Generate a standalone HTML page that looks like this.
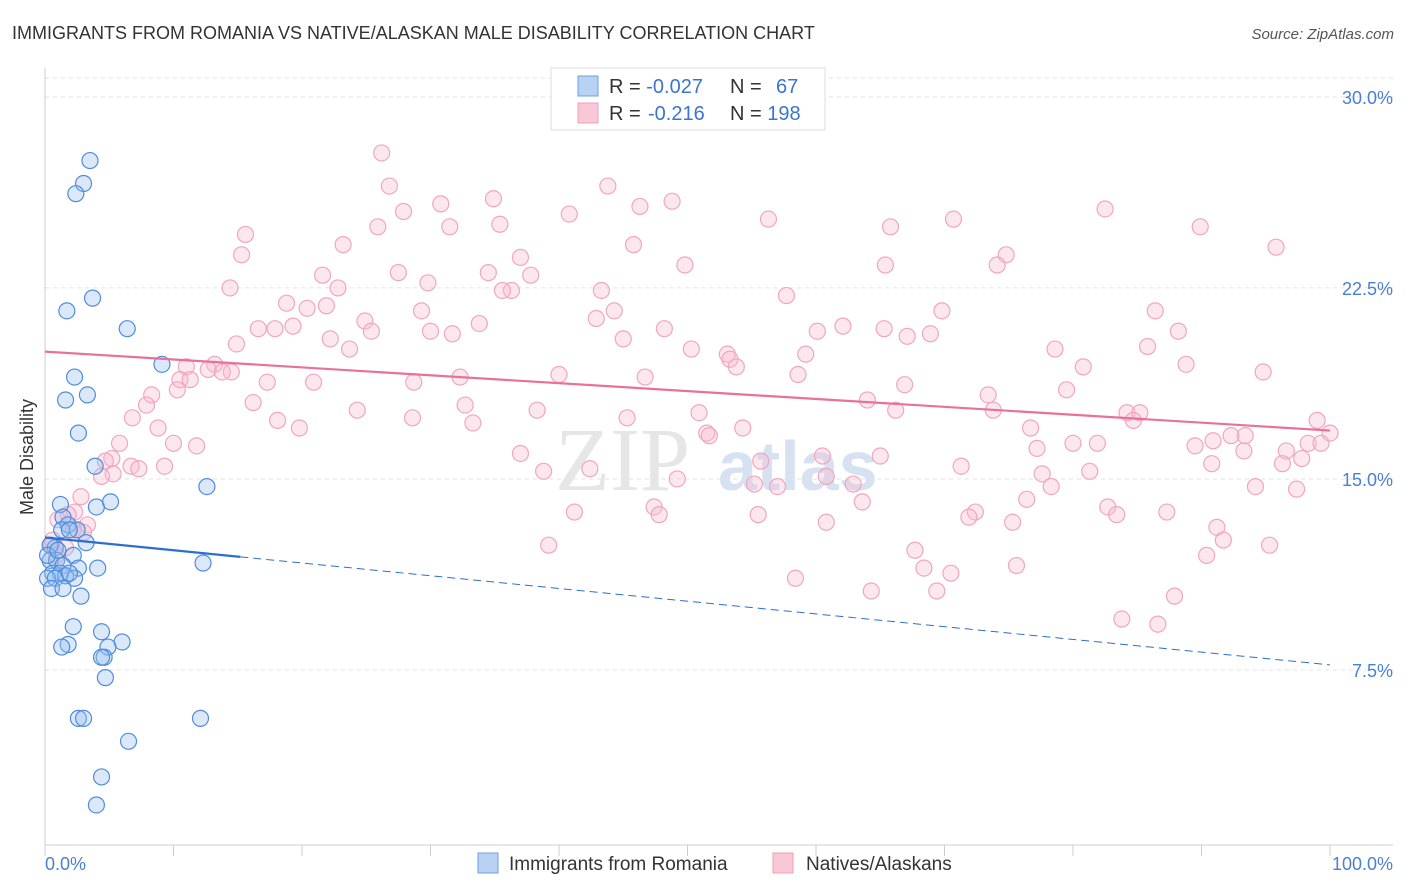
<!DOCTYPE html>
<html><head><meta charset="utf-8"><style>
body{margin:0;background:#fff;font-family:"Liberation Sans",sans-serif;}
svg{display:block}
</style></head><body>
<svg id="chart" width="1406" height="892">
<text x="12" y="39" font-size="18" fill="#333">IMMIGRANTS FROM ROMANIA VS NATIVE/ALASKAN MALE DISABILITY CORRELATION CHART</text>
<text x="1394" y="39" font-size="15" fill="#555" font-style="italic" text-anchor="end">Source: ZipAtlas.com</text>
<text x="33" y="457" font-size="18" fill="#333" text-anchor="middle" transform="rotate(-90 33 457)">Male Disability</text>
<g><text x="555" y="490" font-size="90" fill="#e6e6e6" font-family="Liberation Serif,serif">ZIP</text><text x="718" y="490" font-size="70" fill="#d6e2f2" font-weight="bold">atlas</text></g>
<g id="grid"></g><g id="axes"></g><g id="marks"></g>
<g>
<rect x="551" y="68" width="274" height="62" fill="#fff" stroke="#ddd"/>
<rect x="578" y="76" width="20" height="20" fill="#b8d2f4" stroke="#6f9fe0"/>
<rect x="578" y="103" width="20" height="20" fill="#f9c8d6" stroke="#ef9fb8"/>
<text x="609" y="93" font-size="20" fill="#333">R = <tspan fill="#3c74d0">-0.027</tspan></text>
<text x="730" y="93" font-size="20" fill="#333">N = </text><text x="776" y="93" font-size="20" fill="#3c74d0">67</text>
<text x="609" y="120" font-size="20" fill="#333">R = </text><text x="648" y="120" font-size="20" fill="#3c74d0">-0.216</text>
<text x="730" y="120" font-size="20" fill="#333">N = <tspan fill="#3c74d0">198</tspan></text>
</g>
<g>
<rect x="478" y="853" width="20" height="20" fill="#b8d2f4" stroke="#6f9fe0"/>
<text x="509" y="870" font-size="19" fill="#333">Immigrants from Romania</text>
<rect x="773" y="853" width="20" height="20" fill="#f9c8d6" stroke="#ef9fb8"/>
<text x="806" y="870" font-size="19" fill="#333">Natives/Alaskans</text>
</g>
</svg>
<script>
const yTicks=[7.5,15,22.5,30];
const yTickLabels=["7.5%","15.0%","22.5%","30.0%"];
const xTickLabels=["0.0%","100.0%"];
const blueX=[3.5,3.0,2.4,3.7,1.7,6.4,9.1,2.3,1.6,3.3,2.6,3.9,12.6,1.2,4.0,5.1,1.4,1.8,2.5,1.3,1.9,0.8,3.2,2.2,0.4,0.9,1.4,2.6,4.1,0.6,1.2,1.6,2.3,0.2,0.8,1.9,0.5,1.4,2.8,12.3,2.2,4.4,6.0,1.8,1.3,4.9,4.6,4.4,4.7,2.6,3.0,12.1,6.5,4.4,4.0,0.4,0.2,1.0];
const blueY=[27.5,26.6,26.2,22.1,21.6,20.9,19.5,19.0,18.1,18.3,16.8,15.5,14.7,14.0,13.9,14.1,13.5,13.2,13.0,13.0,13.0,12.3,12.5,12.0,11.8,11.8,11.6,11.5,11.5,11.3,11.3,11.2,11.1,11.1,11.1,11.3,10.7,10.7,10.4,11.7,9.2,9.0,8.6,8.5,8.4,8.4,8.0,8.0,7.2,5.6,5.6,5.6,4.7,3.3,2.2,12.4,12.0,12.2];
const pinkX=[40.3,52.2,26.2,26.8,43.8,34.9,30.8,48.8,46.3,27.9,40.8,56.3,31.5,35.4,25.9,15.6,65.8,70.7,82.5,89.9,95.8,23.2,45.8,15.3,37.0,65.4,49.8,21.6,27.5,34.5,37.8,74.8,74.1,14.4,29.8,43.3,22.8,36.3,35.6,57.7,18.8,29.3,21.9,20.4,44.3,69.8,86.4,24.9,25.4,42.9,33.8,16.6,17.9,19.3,48.2,30.0,31.7,62.1,65.3,60.1,88.2,22.2,45.0,67.1,68.9,14.9,23.7,78.6,85.8,50.3,53.1,59.2,53.3,13.2,11.0,12.7,14.5,13.8,80.8,88.8,40.0,53.8,58.6,46.7,32.3,94.8,10.5,11.3,17.3,28.7,20.9,66.9,8.3,10.3,79.5,73.4,16.2,64.0,7.9,32.7,66.2,38.3,24.3,6.8,28.6,18.1,33.3,45.3,73.8,50.9,84.2,85.2,84.7,99.0,8.8,19.8,54.3,76.7,51.5,51.7,100.0,92.3,90.9,93.4,5.8,10.0,11.8,80.0,81.9,89.5,77.2,93.3,96.6,98.3,99.3,37.0,60.5,65.0,5.2,4.7,6.7,7.3,9.3,5.3,4.4,55.7,97.8,96.3,90.8,71.3,77.6,38.8,81.3,42.4,49.2,60.8,62.9,55.2,57.0,78.3,94.2,97.4,2.8,76.4,63.6,47.4,47.8,2.3,41.2,1.8,55.5,82.7,83.4,72.4,71.9,87.3,60.8,75.3,91.2,1.0,3.3,2.2,3.0,91.7,39.2,67.7,90.4,95.3,1.6,0.5,68.4,75.6,70.5,58.4,64.3,69.4,87.9,83.8,86.6,0.9,0.6];
const pinkY=[30.1,29.4,27.8,26.5,26.5,26.0,25.8,25.9,25.7,25.5,25.4,25.2,24.9,25.0,24.9,24.6,24.9,25.2,25.6,24.9,24.1,24.2,24.2,23.8,23.7,23.4,23.4,23.0,23.1,23.1,23.0,23.8,23.4,22.5,22.7,22.4,22.5,22.4,22.4,22.2,21.9,21.6,21.8,21.7,21.6,21.6,21.6,21.2,20.8,21.3,21.1,20.9,20.9,21.0,20.9,20.8,20.7,21.0,20.9,20.8,20.8,20.5,20.5,20.6,20.7,20.3,20.1,20.1,20.2,20.1,19.9,19.9,19.7,19.5,19.4,19.3,19.2,19.2,19.4,19.5,19.1,19.4,19.1,19.0,19.0,19.2,18.9,18.9,18.8,18.8,18.8,18.7,18.3,18.5,18.5,18.3,18.0,18.1,17.9,17.9,17.7,17.7,17.7,17.4,17.4,17.3,17.2,17.4,17.7,17.6,17.6,17.6,17.3,17.3,17.0,17.0,17.0,17.0,16.8,16.7,16.8,16.7,16.5,16.7,16.4,16.4,16.3,16.4,16.4,16.3,16.2,16.1,16.1,16.4,16.4,16.0,15.9,15.9,15.8,15.7,15.5,15.4,15.5,15.2,15.1,15.7,15.8,15.6,15.6,15.5,15.2,15.3,15.3,15.4,15.0,15.1,14.8,14.8,14.7,14.7,14.7,14.6,14.3,14.2,14.1,13.9,13.6,13.7,13.7,13.6,13.6,13.9,13.6,13.7,13.5,13.7,13.3,13.3,13.1,13.4,13.2,13.0,12.9,12.6,12.4,12.2,12.0,12.4,12.3,12.4,11.5,11.6,11.3,11.1,10.6,10.6,10.4,9.5,9.3,12.0,12.6];
const blueTrend=[12.7,7.7]; const blueSolidEnd=15.2;
const pinkTrend=[20.0,16.9];
const NS="http://www.w3.org/2000/svg";
const X=v=>45+v*12.85, Y=v=>861-v*25.47;
function mk(tag,attrs,parent){const e=document.createElementNS(NS,tag);for(const k in attrs)e.setAttribute(k,attrs[k]);parent.appendChild(e);return e;}
const grid=document.getElementById('grid'),axes=document.getElementById('axes'),marks=document.getElementById('marks');
mk('line',{x1:45,x2:1393,y1:78,y2:78,stroke:'#e2e2e2','stroke-dasharray':'4,4'},grid);
yTicks.forEach((t,i)=>{
 const l=mk('line',{x1:45,x2:1393,y1:Y(t),y2:Y(t),stroke:'#e2e2e2','stroke-dasharray':'4,4'},grid);
 
 
 const tx=mk('text',{x:1393,y:Y(t)+7,'font-size':18,fill:'#4a7fd4','text-anchor':'end'},axes);
 tx.textContent=yTickLabels[i];
 
 
});
mk('line',{x1:45,x2:45,y1:68,y2:845,stroke:'#ccc'},axes);
mk('line',{x1:45,x2:1393,y1:845,y2:845,stroke:'#ccc'},axes);
for(let i=0;i<=10;i++){mk('line',{x1:X(i*10),x2:X(i*10),y1:845,y2:856,stroke:'#ccc'},axes);}
const xl0=mk('text',{x:45,y:870,'font-size':18,fill:'#4a7fd4'},axes);xl0.textContent=xTickLabels[0];


const xl1=mk('text',{x:1393,y:870,'font-size':18,fill:'#4a7fd4','text-anchor':'end'},axes);xl1.textContent=xTickLabels[1];


pinkX.forEach((x,i)=>{const c=mk('circle',{cx:X(x),cy:Y(pinkY[i]),r:8,fill:'rgba(248,185,205,0.35)',stroke:'#f0a6bf','stroke-width':1.2},marks);
 
 });
blueX.forEach((x,i)=>{const c=mk('circle',{cx:X(x),cy:Y(blueY[i]),r:8,fill:'rgba(150,190,240,0.35)',stroke:'#4f8ddb','stroke-width':1.2},marks);
 
 });
const bAt=x=>blueTrend[0]+(blueTrend[1]-blueTrend[0])*x/100;
const b1=mk('line',{x1:X(0),y1:Y(bAt(0)),x2:X(blueSolidEnd),y2:Y(bAt(blueSolidEnd)),stroke:'#2a6fd0','stroke-width':2.2},marks);


const b2=mk('line',{x1:X(blueSolidEnd),y1:Y(bAt(blueSolidEnd)),x2:X(100),y2:Y(bAt(100)),stroke:'#2a6fd0','stroke-width':1,'stroke-dasharray':'8,5'},marks);


const p1=mk('line',{x1:X(0),y1:Y(pinkTrend[0]),x2:X(100),y2:Y(pinkTrend[1]),stroke:'#e8709a','stroke-width':2.2},marks);


</script>
</body></html>
